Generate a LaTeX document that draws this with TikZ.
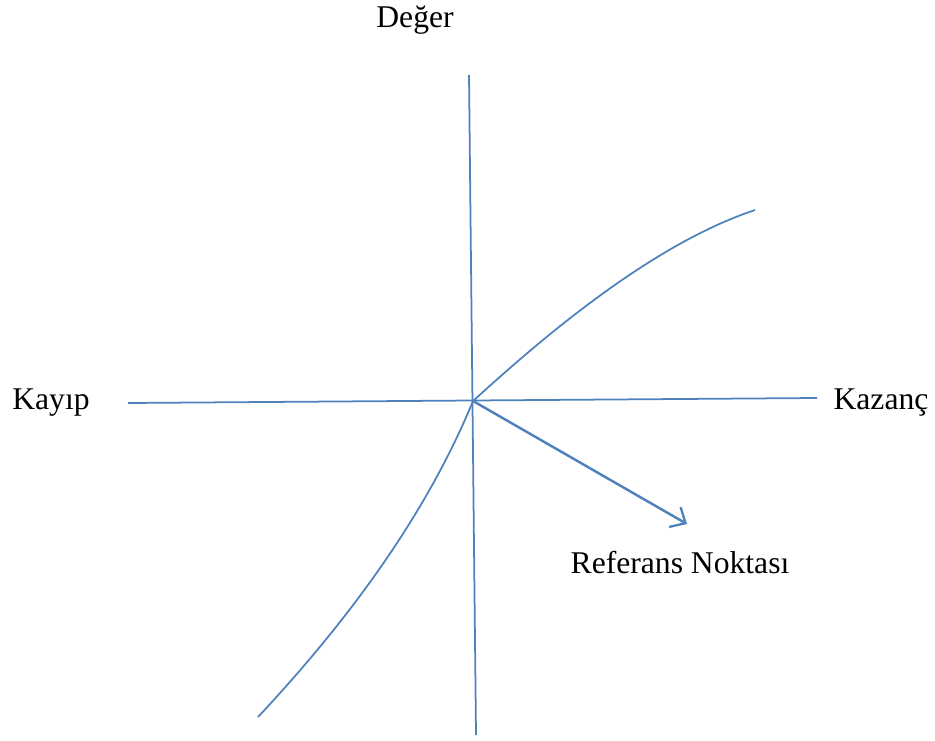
\documentclass[tikz,border=0pt]{standalone}
\usepackage{fontspec}
\setmainfont{Liberation Serif}
\usetikzlibrary{arrows.meta}
\definecolor{cLine}{HTML}{4F81BD}
\tikzset{
  axisline/.style={draw=cLine, line width=1pt},
  curveline/.style={draw=cLine, line width=1pt},
  refarrow/.style={-{Straight Barb[length=7pt, width=13pt, line width=1.3pt]}, draw=cLine, line width=1.4pt},
  axislabel/.style={font=\fontsize{18}{22}\selectfont, text=black, inner sep=0pt},
}

\begin{document}
\begin{tikzpicture}[x=0.02cm, y=-0.02cm]
  \useasboundingbox (0,0) rectangle (935,740);

  % Axis ends and origin
  \coordinate (o) at (473,401);
  \coordinate (ytop) at (469,75);
  \coordinate (ybot) at (476,735);
  \coordinate (xleft) at (128,403);
  \coordinate (xright) at (817,398);
  \coordinate (gainend) at (755,210);
  \coordinate (lossend) at (258,717);
  \coordinate (refend) at (687,524);

  % Labels
  \node[axislabel] (deger) at (415,20) {Değer};
  \node[axislabel] (kayip) at (51,403) {Kayıp};
  \node[axislabel] (kazanc) at (881,403) {Kazanç};
  \node[axislabel] (ref) at (680,563) {Referans Noktası};

  % Axes
  \draw[axisline] (ytop) -- (ybot);
  \draw[axisline] (xleft) -- (xright);

  % Value function
  \draw[curveline] (o) .. controls (540,340) and (650,245) .. (gainend);
  \draw[curveline] (lossend) .. controls (330,640) and (420,530) .. (o);

  % Reference point
  \draw[refarrow] (o) -- (refend);

\end{tikzpicture}
\end{document}
